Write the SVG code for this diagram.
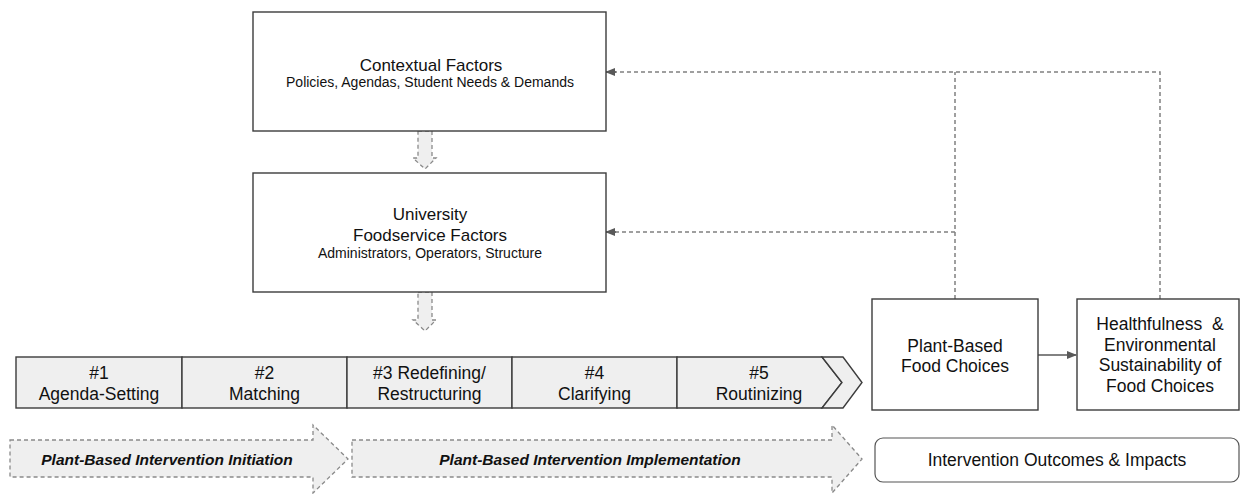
<svg xmlns="http://www.w3.org/2000/svg" width="1241" height="494" viewBox="0 0 1241 494">
  <defs>
    <style>
      text { font-family: "Liberation Sans", Arial, sans-serif; fill: #111; text-anchor: middle; }
      .box { fill: #fff; stroke: #3c3c3c; stroke-width: 1.4; }
      .stage { fill: #efefef; stroke: #3c3c3c; stroke-width: 1.4; stroke-linejoin: miter; }
      .hollow { fill: #efefef; stroke: #8a8a8a; stroke-width: 1.3; stroke-dasharray: 4 3; }
      .feedback { fill: none; stroke: #808080; stroke-width: 1.5; stroke-dasharray: 4 3; }
      .flow { fill: none; stroke: #595959; stroke-width: 1.5; }
      .t17 { font-size: 17.5px; }
      .t16 { font-size: 17px; }
      .sub { font-size: 14px; }
      .phase { font-size: 15.5px; font-weight: bold; font-style: italic; }
    </style>
    <marker id="head" markerWidth="10" markerHeight="8" refX="9" refY="4" orient="auto" markerUnits="userSpaceOnUse">
      <path d="M0,0 L10,4 L0,8 Z" fill="#595959"/>
    </marker>
  </defs>

  <!-- feedback and flow connectors -->
  <g id="connectors">
    <polyline class="feedback" points="955,299 955,72"/>
    <polyline class="feedback" points="1160,299 1160,72 614,72"/>
    <polyline class="feedback" points="955,232 614,232"/>
    <path d="M616,72 L606,72" class="flow" marker-end="url(#head)"/>
    <path d="M616,232 L606,232" class="flow" marker-end="url(#head)"/>
    <line class="flow" x1="1038" y1="355" x2="1076" y2="355" marker-end="url(#head)"/>
    <!-- hollow downward arrows between factor boxes and stages -->
    <polygon class="hollow" points="418,131 432,131 432,158 436,158 425,169 413,158 418,158"/>
    <polygon class="hollow" points="418,292 432,292 432,320 436,320 425,331 413,320 418,320"/>
  </g>

  <g id="contextual-factors">
    <rect class="box" x="253" y="12" width="353" height="119"/>
    <text class="t16" x="431" y="71">Contextual Factors</text>
    <text class="sub" x="430" y="87">Policies, Agendas, Student Needs &amp; Demands</text>
  </g>

  <g id="foodservice-factors">
    <rect class="box" x="253" y="173" width="353" height="119"/>
    <text class="t16" x="430" y="220">University</text>
    <text class="t16" x="430" y="241">Foodservice Factors</text>
    <text class="sub" x="430" y="258">Administrators, Operators, Structure</text>
  </g>

  <g id="stages">
    <rect class="stage" x="16" y="357" width="166" height="51"/>
    <rect class="stage" x="182" y="357" width="165" height="51"/>
    <rect class="stage" x="347" y="357" width="165" height="51"/>
    <rect class="stage" x="512" y="357" width="165" height="51"/>
    <polygon class="stage" points="677,357 822,357 842,382.5 822,408 677,408"/>
    <polygon class="stage" points="822,357 843,357 862,382.5 843,408 822,408 842,382.5"/>
    <text class="t17" x="99" y="379">#1</text>
    <text class="t17" x="99" y="400">Agenda-Setting</text>
    <text class="t17" x="264.5" y="379">#2</text>
    <text class="t17" x="264.5" y="400">Matching</text>
    <text class="t17" x="429.5" y="379">#3 Redefining/</text>
    <text class="t17" x="429.5" y="400">Restructuring</text>
    <text class="t17" x="594.5" y="379">#4</text>
    <text class="t17" x="594.5" y="400">Clarifying</text>
    <text class="t17" x="759" y="379">#5</text>
    <text class="t17" x="759" y="400">Routinizing</text>
  </g>

  <g id="plant-based-choices">
    <rect class="box" x="872" y="299" width="166" height="111"/>
    <text class="t17" x="955" y="352">Plant-Based</text>
    <text class="t17" x="955" y="372">Food Choices</text>
  </g>

  <g id="healthfulness">
    <rect class="box" x="1077" y="299" width="162" height="111"/>
    <text class="t17" x="1160" y="330" style="white-space:pre">Healthfulness  &amp;</text>
    <text class="t17" x="1160" y="351">Environmental</text>
    <text class="t17" x="1160" y="371">Sustainability of</text>
    <text class="t17" x="1160" y="392">Food Choices</text>
  </g>

  <g id="phase-initiation">
    <polygon class="hollow" points="10,440 313,440 313,425 348,459 313,493 313,477 10,477"/>
    <text class="phase" x="167" y="465">Plant-Based Intervention Initiation</text>
  </g>

  <g id="phase-implementation">
    <polygon class="hollow" points="352,440 832,440 832,425 862,459 832,493 832,477 352,477"/>
    <text class="phase" x="590" y="465">Plant-Based Intervention Implementation</text>
  </g>

  <g id="outcomes">
    <rect class="box" x="875" y="438" width="364" height="44" rx="8" ry="8" style="stroke:#555;stroke-width:1.2"/>
    <text class="t17" x="1057" y="466">Intervention Outcomes &amp; Impacts</text>
  </g>
</svg>
